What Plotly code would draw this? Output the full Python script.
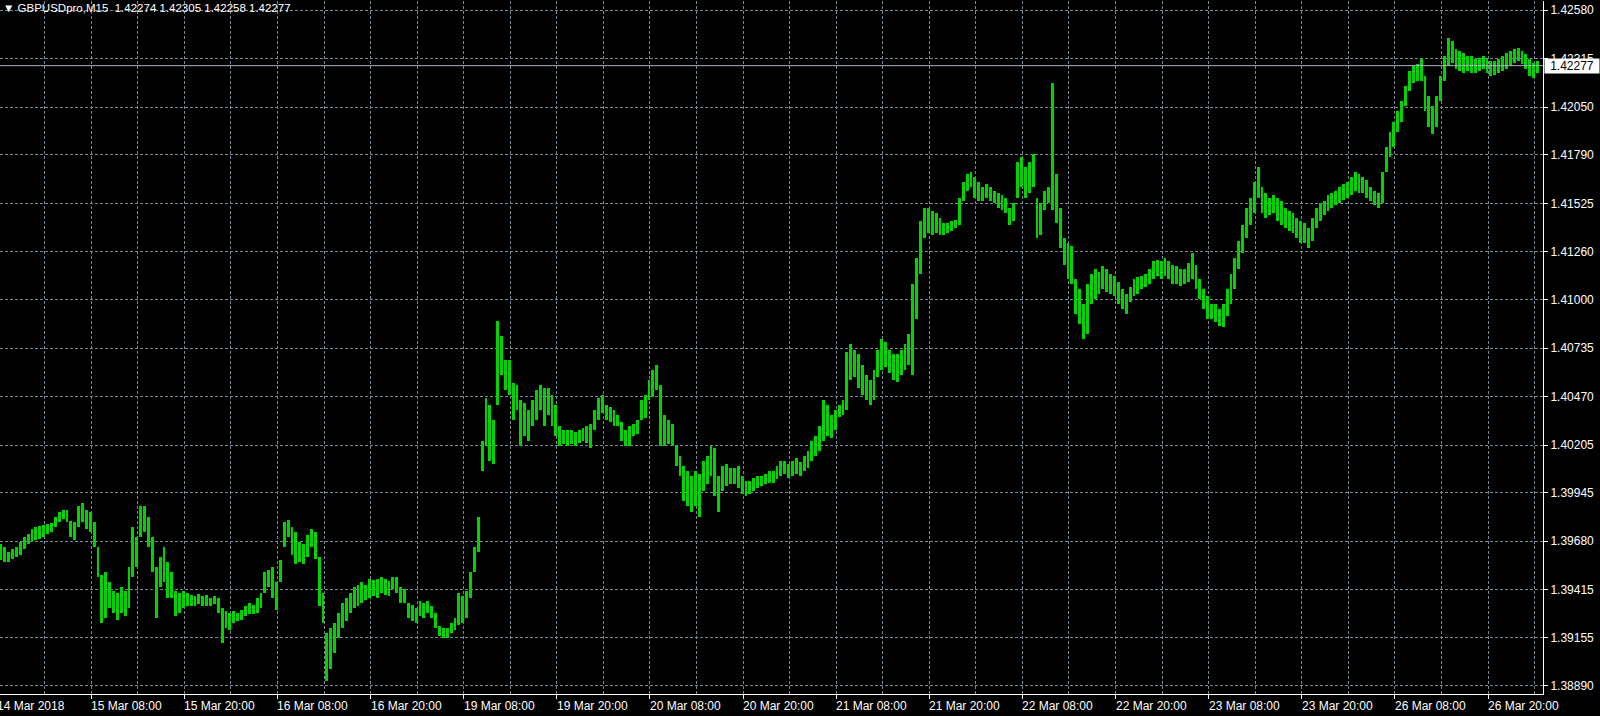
import plotly.graph_objects as go

# ---------------- data ----------------
symbol = "GBPUSDpro,M15"
header_ohlc = ["1.42274", "1.42305", "1.42258", "1.42277"]
last_price = 1.42277

price_labels = ["1.42580", "1.42315", "1.42050", "1.41790", "1.41525", "1.41260",
                "1.41000", "1.40735", "1.40470", "1.40205", "1.39945", "1.39680",
                "1.39415", "1.39155", "1.38890"]

time_labels = ["14 Mar 2018", "15 Mar 08:00", "15 Mar 20:00", "16 Mar 08:00",
               "16 Mar 20:00", "19 Mar 08:00", "19 Mar 20:00", "20 Mar 08:00",
               "20 Mar 20:00", "21 Mar 08:00", "21 Mar 20:00", "22 Mar 08:00",
               "22 Mar 20:00", "23 Mar 08:00", "23 Mar 20:00", "26 Mar 08:00",
               "26 Mar 20:00"]

# bar highs / lows, one bar read per 30 minutes (every second M15 bar)
bar_high = [
    1.39665, 1.39649, 1.39621, 1.39638, 1.39649, 1.39676, 1.39704, 1.39721, 1.39748, 1.39759, 1.39765, 1.39770,
    1.39776, 1.39782, 1.39815, 1.39842, 1.39853, 1.39853, 1.39793, 1.39787, 1.39870, 1.39887, 1.39853, 1.39842,
    1.39787, 1.39649, 1.39494, 1.39511, 1.39455, 1.39411, 1.39400, 1.39428, 1.39411, 1.39538, 1.39759, 1.39704,
    1.39870, 1.39870, 1.39815, 1.39704, 1.39538, 1.39594, 1.39649, 1.39566, 1.39511, 1.39411, 1.39400, 1.39411,
    1.39400, 1.39389, 1.39383, 1.39394, 1.39383, 1.39389, 1.39372, 1.39383, 1.39372, 1.39317, 1.39300, 1.39289,
    1.39300, 1.39289, 1.39306, 1.39328, 1.39345, 1.39334, 1.39372, 1.39400, 1.39511, 1.39522, 1.39538, 1.39455,
    1.39577, 1.39787, 1.39798, 1.39759, 1.39732, 1.39676, 1.39665, 1.39715, 1.39748, 1.39732, 1.39594, 1.39400,
    1.39179, 1.39206, 1.39234, 1.39289, 1.39345, 1.39372, 1.39400, 1.39428, 1.39439, 1.39455, 1.39439, 1.39472,
    1.39466, 1.39472, 1.39483, 1.39472, 1.39461, 1.39483, 1.39483, 1.39428, 1.39417, 1.39345, 1.39334, 1.39317,
    1.39356, 1.39345, 1.39356, 1.39328, 1.39289, 1.39217, 1.39206, 1.39206, 1.39234, 1.39262, 1.39400, 1.39383,
    1.39411, 1.39511, 1.39649, 1.39815, 1.40229, 1.40462, 1.40423, 1.40340, 1.40880, 1.40799, 1.40672, 1.40672,
    1.40545, 1.40534, 1.40451, 1.40434, 1.40395, 1.40451, 1.40506, 1.40534, 1.40517, 1.40517, 1.40478, 1.40423,
    1.40312, 1.40285, 1.40285, 1.40285, 1.40274, 1.40285, 1.40296, 1.40312, 1.40323, 1.40395, 1.40462, 1.40478,
    1.40423, 1.40412, 1.40395, 1.40368, 1.40329, 1.40285, 1.40312, 1.40323, 1.40340, 1.40451, 1.40478, 1.40561,
    1.40617, 1.40644, 1.40534, 1.40368, 1.40340, 1.40323, 1.40202, 1.40147, 1.40091, 1.40064, 1.40036, 1.40064,
    1.40047, 1.40119, 1.40147, 1.40202, 1.40191, 1.40036, 1.40091, 1.40102, 1.40080, 1.40080, 1.40091, 1.40036,
    1.40008, 1.40008, 1.40025, 1.40036, 1.40036, 1.40047, 1.40064, 1.40064, 1.40091, 1.40119, 1.40119, 1.40102,
    1.40119, 1.40135, 1.40113, 1.40147, 1.40174, 1.40229, 1.40257, 1.40312, 1.40451, 1.40423, 1.40368, 1.40395,
    1.40423, 1.40451, 1.40716, 1.40755, 1.40727, 1.40700, 1.40644, 1.40589, 1.40561, 1.40617, 1.40727, 1.40782,
    1.40766, 1.40727, 1.40700, 1.40700, 1.40727, 1.40755, 1.40810, 1.41087, 1.41225, 1.41429, 1.41501, 1.41501,
    1.41485, 1.41474, 1.41446, 1.41418, 1.41418, 1.41429, 1.41435, 1.41557, 1.41640, 1.41684, 1.41695, 1.41667,
    1.41640, 1.41612, 1.41629, 1.41612, 1.41595, 1.41584, 1.41573, 1.41557, 1.41501, 1.41529, 1.41750, 1.41778,
    1.41723, 1.41750, 1.41794, 1.41557, 1.41529, 1.41595, 1.41612, 1.42182, 1.41684, 1.41501, 1.41335, 1.41308,
    1.41291, 1.41114, 1.41059, 1.40976, 1.41087, 1.41142, 1.41169, 1.41153, 1.41181, 1.41169, 1.41142, 1.41131,
    1.41098, 1.41059, 1.41031, 1.41070, 1.41114, 1.41125, 1.41131, 1.41142, 1.41169, 1.41208, 1.41214, 1.41208,
    1.41225, 1.41208, 1.41186, 1.41181, 1.41169, 1.41169, 1.41197, 1.41252, 1.41186, 1.41114, 1.41059, 1.41020,
    1.40976, 1.40976, 1.40948, 1.40976, 1.41059, 1.41142, 1.41225, 1.41319, 1.41407, 1.41501, 1.41557, 1.41640,
    1.41723, 1.41612, 1.41584, 1.41557, 1.41573, 1.41557, 1.41540, 1.41501, 1.41485, 1.41474, 1.41446, 1.41429,
    1.41418, 1.41391, 1.41446, 1.41501, 1.41529, 1.41540, 1.41573, 1.41584, 1.41595, 1.41612, 1.41629, 1.41640,
    1.41667, 1.41695, 1.41684, 1.41667, 1.41651, 1.41612, 1.41595, 1.41584, 1.41695, 1.41833, 1.41916, 1.41971,
    1.42027, 1.42082, 1.42165, 1.42248, 1.42276, 1.42287, 1.42314, 1.42220, 1.42110, 1.42054, 1.42110, 1.42220,
    1.42331, 1.42430, 1.42414, 1.42370, 1.42359, 1.42347, 1.42331, 1.42331, 1.42314, 1.42320, 1.42331, 1.42314,
    1.42303, 1.42303, 1.42314, 1.42331, 1.42347, 1.42359, 1.42370, 1.42375, 1.42359, 1.42342, 1.42314, 1.42292,
    1.42303,
]

bar_low = [
    1.39577, 1.39566, 1.39566, 1.39582, 1.39594, 1.39605, 1.39638, 1.39665, 1.39676, 1.39688, 1.39693, 1.39704,
    1.39721, 1.39732, 1.39759, 1.39787, 1.39804, 1.39787, 1.39704, 1.39688, 1.39759, 1.39787, 1.39748, 1.39732,
    1.39649, 1.39483, 1.39234, 1.39262, 1.39317, 1.39289, 1.39251, 1.39289, 1.39273, 1.39317, 1.39483, 1.39538,
    1.39704, 1.39732, 1.39649, 1.39511, 1.39262, 1.39428, 1.39455, 1.39372, 1.39372, 1.39273, 1.39289, 1.39317,
    1.39328, 1.39328, 1.39328, 1.39339, 1.39328, 1.39328, 1.39328, 1.39339, 1.39289, 1.39123, 1.39206, 1.39195,
    1.39234, 1.39245, 1.39251, 1.39273, 1.39284, 1.39284, 1.39289, 1.39317, 1.39400, 1.39428, 1.39372, 1.39306,
    1.39455, 1.39649, 1.39704, 1.39605, 1.39555, 1.39566, 1.39555, 1.39594, 1.39649, 1.39582, 1.39328, 1.39234,
    1.38919, 1.38985, 1.39068, 1.39151, 1.39206, 1.39245, 1.39289, 1.39317, 1.39328, 1.39345, 1.39361, 1.39372,
    1.39383, 1.39372, 1.39400, 1.39389, 1.39383, 1.39417, 1.39400, 1.39345, 1.39345, 1.39262, 1.39245, 1.39234,
    1.39273, 1.39262, 1.39289, 1.39262, 1.39206, 1.39162, 1.39151, 1.39151, 1.39179, 1.39195, 1.39223, 1.39234,
    1.39262, 1.39372, 1.39511, 1.39621, 1.40064, 1.40202, 1.40119, 1.40102, 1.40423, 1.40589, 1.40506, 1.40478,
    1.40340, 1.40395, 1.40202, 1.40257, 1.40229, 1.40312, 1.40340, 1.40395, 1.40312, 1.40368, 1.40312, 1.40257,
    1.40202, 1.40213, 1.40202, 1.40213, 1.40202, 1.40218, 1.40229, 1.40218, 1.40191, 1.40285, 1.40340, 1.40379,
    1.40340, 1.40329, 1.40312, 1.40312, 1.40229, 1.40202, 1.40202, 1.40257, 1.40268, 1.40340, 1.40351, 1.40451,
    1.40467, 1.40506, 1.40202, 1.40202, 1.40213, 1.40202, 1.40091, 1.40036, 1.39898, 1.39870, 1.39842, 1.39870,
    1.39815, 1.39953, 1.39992, 1.40036, 1.39925, 1.39842, 1.39953, 1.39981, 1.39992, 1.39992, 1.39970, 1.39936,
    1.39925, 1.39936, 1.39953, 1.39970, 1.39981, 1.39992, 1.39997, 1.39997, 1.40019, 1.40036, 1.40047, 1.40025,
    1.40036, 1.40047, 1.40036, 1.40064, 1.40080, 1.40119, 1.40147, 1.40174, 1.40229, 1.40257, 1.40246, 1.40285,
    1.40357, 1.40368, 1.40395, 1.40561, 1.40578, 1.40517, 1.40478, 1.40451, 1.40423, 1.40451, 1.40578, 1.40617,
    1.40633, 1.40600, 1.40561, 1.40550, 1.40589, 1.40617, 1.40644, 1.40589, 1.40893, 1.41142, 1.41335, 1.41363,
    1.41352, 1.41363, 1.41352, 1.41352, 1.41363, 1.41374, 1.41391, 1.41407, 1.41540, 1.41595, 1.41612, 1.41557,
    1.41540, 1.41540, 1.41557, 1.41540, 1.41529, 1.41501, 1.41490, 1.41474, 1.41407, 1.41429, 1.41557, 1.41612,
    1.41557, 1.41584, 1.41612, 1.41335, 1.41352, 1.41490, 1.41529, 1.41490, 1.41418, 1.41280, 1.41186, 1.41114,
    1.41087, 1.40921, 1.40865, 1.40782, 1.40810, 1.40976, 1.41004, 1.41031, 1.41059, 1.41042, 1.41031, 1.41020,
    1.40976, 1.40948, 1.40921, 1.40987, 1.41020, 1.41031, 1.41059, 1.41070, 1.41087, 1.41114, 1.41131, 1.41114,
    1.41131, 1.41114, 1.41087, 1.41087, 1.41076, 1.41087, 1.41098, 1.41114, 1.41059, 1.41004, 1.40948, 1.40893,
    1.40893, 1.40877, 1.40854, 1.40849, 1.40910, 1.40976, 1.41059, 1.41169, 1.41252, 1.41335, 1.41407, 1.41474,
    1.41557, 1.41474, 1.41446, 1.41463, 1.41474, 1.41429, 1.41407, 1.41391, 1.41374, 1.41363, 1.41335, 1.41308,
    1.41308, 1.41280, 1.41319, 1.41391, 1.41429, 1.41463, 1.41485, 1.41501, 1.41518, 1.41529, 1.41546, 1.41557,
    1.41573, 1.41595, 1.41584, 1.41584, 1.41557, 1.41540, 1.41518, 1.41501, 1.41529, 1.41695, 1.41778, 1.41833,
    1.41916, 1.41971, 1.42054, 1.42137, 1.42182, 1.42193, 1.42193, 1.42027, 1.41944, 1.41905, 1.41944, 1.42082,
    1.42193, 1.42276, 1.42292, 1.42259, 1.42248, 1.42237, 1.42248, 1.42237, 1.42237, 1.42248, 1.42259, 1.42237,
    1.42220, 1.42226, 1.42237, 1.42248, 1.42259, 1.42276, 1.42292, 1.42303, 1.42287, 1.42259, 1.42220, 1.42209,
    1.42237,
]

# ---------------- figure ----------------
BARS_PER_LABEL = 48          # M15 bars in 12 hours
bar_index = [2 * i for i in range(len(bar_high))]          # M15 bar number of each drawn bar
label_index = [BARS_PER_LABEL * k - 1.5 for k in range(len(time_labels))]
grid_index = [BARS_PER_LABEL / 2 * m - 1.5 for m in range(1, 2 * len(time_labels))]

GREEN = "#00d400"
GRID = "#778899"
FONT = "Liberation Sans, Arial, DejaVu Sans, sans-serif"

fig = go.Figure()
fig.add_trace(go.Bar(
    x=bar_index,
    y=[h - l for h, l in zip(bar_high, bar_low)],
    base=bar_low,
    width=1.5,
    marker=dict(color=GREEN, line=dict(width=0)),
    hoverinfo="skip",
))

fig.add_shape(type="line", xref="paper", x0=0, x1=1, yref="y", y0=last_price, y1=last_price,
              line=dict(color="#a9b3c1", width=1), layer="above")

annotations = [
    dict(xref="paper", yref="paper", x=0, y=1, xanchor="left", yanchor="top", xshift=1, yshift=1,
         text="▼ " + symbol + "  " + " ".join(header_ohlc), showarrow=False,
         font=dict(family=FONT, size=11.5, color="white")),
    dict(xref="paper", yref="y", x=1, y=last_price, xanchor="left", yanchor="middle", xshift=1,
         text=f"{last_price:.5f}", showarrow=False, bgcolor="white", width=54, borderpad=0,
         font=dict(family=FONT, size=12, color="black")),
    # first (partly cut) date label sits just left of the plot's edge
    dict(xref="paper", yref="paper", x=0, y=0, xanchor="left", yanchor="top",
         yshift=-3, xshift=-5, text=time_labels[0], showarrow=False,
         font=dict(family=FONT, size=12, color="white")),
]
for xi, lab in zip(label_index[1:], time_labels[1:]):
    annotations.append(dict(xref="x", yref="paper", x=xi, y=0, xanchor="left", yanchor="top",
                            yshift=-3, xshift=-2, text=lab, showarrow=False,
                            font=dict(family=FONT, size=12, color="white")))

fig.update_layout(
    width=1600, height=716, autosize=False,
    margin=dict(l=0, r=57, t=1, b=22),
    paper_bgcolor="black", plot_bgcolor="black",
    showlegend=False, bargap=0,
    annotations=annotations,
    xaxis=dict(
        range=[-0.515, 794.85], tickvals=label_index, showticklabels=False,
        ticks="outside", ticklen=4, tickcolor="white", tickwidth=1,
        showgrid=True, gridcolor=GRID, griddash="3px,2px", gridwidth=1,
        minor=dict(tickvals=grid_index, showgrid=True, gridcolor=GRID, griddash="3px,2px", ticks=""),
        showline=True, linecolor="white", linewidth=1, zeroline=False, fixedrange=True,
    ),
    yaxis=dict(
        side="right", range=[1.38846, 1.42630],
        tickvals=[float(s) for s in price_labels], ticktext=price_labels,
        ticks="outside", ticklen=4, tickcolor="white", tickwidth=1,
        tickfont=dict(family=FONT, size=12, color="white"),
        showgrid=True, gridcolor=GRID, griddash="3px,2px", gridwidth=1,
        showline=True, linecolor="white", linewidth=1, zeroline=False, fixedrange=True,
    ),
)

fig.write_html("out.html", config={"displayModeBar": False},
               post_script="document.body.style.margin='0';document.body.style.background='black';")
